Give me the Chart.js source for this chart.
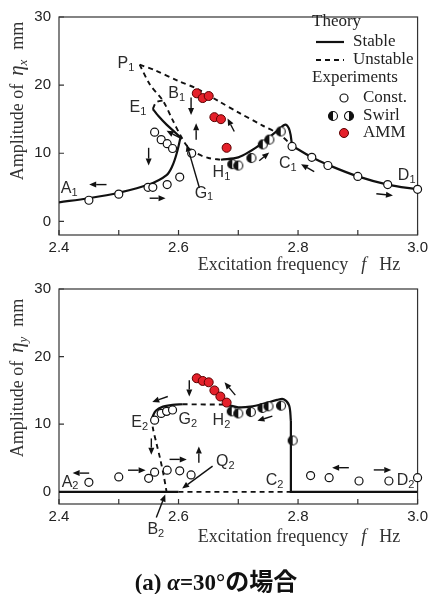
<!DOCTYPE html>
<html>
<head>
<meta charset="utf-8">
<script src="https://cdn.jsdelivr.net/npm/chart.js@4.4.1/dist/chart.umd.min.js"></script>
<style>
  body { margin: 0; background: #fff; }
  #wrap { position: relative; width: 432px; height: 594px; overflow: hidden; }
  #wrap canvas { position: absolute; left: 0; }
  #c1 { top: 0; }
  #c2 { top: 272px; }
  #caption { position: absolute; left: 0; top: 562px; width: 432px; line-height: 30px; text-align: center; color: #111; }
  #caption .s { font: bold 23px "Liberation Serif", serif; }
  #caption .j { font: bold 24px "Noto Sans CJK JP", sans-serif; }
</style>
</head>
<body>
<div id="wrap">
  <canvas id="c1" width="432" height="276"></canvas>
  <canvas id="c2" width="432" height="290"></canvas>
  <div id="caption"><span class="s">(a) <i>α</i>=30°</span><span class="j">の場合</span></div>
</div>
<script>
const sans = '"Liberation Sans", Arial, sans-serif';
const serif = '"Liberation Serif", "Times New Roman", serif';

// axes
const xTicks = [2.4, 2.5, 2.6, 2.7, 2.8, 2.9, 3.0];
const xTickLabels = ['2.4', '', '2.6', '', '2.8', '', '3.0'];
const yTicks = [0, 10, 20, 30];

// ---- top panel (eta_x), theory curves [f, amplitude]
const xLowStable = [[2.40, 2.8], [2.45, 3.4], [2.50, 4.2], [2.55, 5.4], [2.58, 6.8], [2.59, 8.2], [2.597, 10.0], [2.603, 12.2]];
const xE1Stable = [[2.605, 12.2], [2.58, 14.2], [2.566, 15.5], [2.557, 16.5]];
const xE1Dash = [[2.557, 16.5], [2.563, 17.5], [2.577, 17.8]];
const xP1Lower = [[2.535, 23.0], [2.552, 20.1], [2.574, 17.7], [2.59, 14.9], [2.604, 12.5], [2.615, 11.0], [2.63, 10.0], [2.65, 9.3], [2.671, 9.05]];
const xP1Upper = [[2.535, 23.0], [2.56, 22.2], [2.60, 20.6], [2.63, 19.5], [2.668, 17.6], [2.70, 16.0], [2.74, 14.1], [2.77, 12.7], [2.79, 11.1]];
const xH1Stable = [[2.671, 9.05], [2.70, 9.4], [2.72, 10.3], [2.74, 11.5], [2.768, 13.5], [2.779, 14.2], [2.786, 13.3], [2.79, 11.1]];
const xD1Stable = [[2.79, 11.1], [2.823, 9.4], [2.85, 8.3], [2.90, 6.6], [2.95, 5.4], [3.0, 4.7]];

// top panel experiments
const xConst = [[2.45, 3.1], [2.50, 4.0], [2.549, 5.0], [2.557, 5.0], [2.581, 5.4], [2.602, 6.5], [2.622, 10.0],
  [2.56, 13.1], [2.571, 12.0], [2.581, 11.4], [2.59, 10.7],
  [2.79, 11.0], [2.823, 9.4], [2.85, 8.2], [2.90, 6.6], [2.95, 5.4], [3.0, 4.7]];
const xSwirl = [[2.69, 8.4], [2.70, 8.2], [2.722, 9.3], [2.741, 11.3], [2.752, 12.0], [2.771, 13.2]];
const xAmm = [[2.6305, 18.8], [2.6405, 18.1], [2.6505, 18.4], [2.66, 15.3], [2.671, 15.0], [2.6805, 10.8]];

// top panel notes: [text, sub, f, amp] and arrows [f1, a1, f2, a2]
const xLabels = [['A', '1', 2.403, 4.8], ['P', '1', 2.498, 23.1], ['B', '1', 2.583, 18.7], ['E', '1', 2.518, 16.7],
  ['G', '1', 2.627, 4.1], ['H', '1', 2.657, 7.1], ['C', '1', 2.768, 8.5], ['D', '1', 2.967, 6.7]];
const xArrows = [[2.4795, 5.4, 2.4505, 5.4], [2.5517, 3.4, 2.5783, 3.4], [2.55, 10.8, 2.55, 8.2],
  [2.606, 12.1, 2.58, 13.3], [2.621, 18.2, 2.621, 15.6], [2.6295, 12.0, 2.6295, 14.4],
  [2.635, 4.9, 2.6138, 11.3], [2.6933, 13.2, 2.682, 15.1], [2.735, 8.9, 2.7517, 10.1],
  [2.827, 7.3, 2.805, 8.4], [2.931, 4.06, 2.9588, 3.8]];

// ---- bottom panel (eta_y), theory curves
const yZeroLeft = [[2.40, 0], [2.60, 0]];
const yZeroDash = [[2.60, 0], [2.788, 0]];
const yE2Stable = [[2.556, 11.0], [2.562, 12.0], [2.574, 12.6], [2.59, 12.85], [2.607, 12.95]];
const yE2Dash = [[2.556, 11.0], [2.557, 9.5], [2.563, 7.2], [2.569, 5.0], [2.575, 2.5], [2.58, 0]];
const yG2Dash = [[2.607, 12.95], [2.68, 12.9]];
const yH2Stable = [[2.68, 12.9], [2.70, 12.5], [2.72, 12.6], [2.745, 13.1], [2.765, 13.6], [2.776, 13.7], [2.785, 12.8], [2.788, 10.5]];
const yDropStable = [[2.788, 10.5], [2.788, 0], [3.0, 0]];

// bottom panel experiments
const yConst = [[2.45, 1.4], [2.50, 2.2], [2.55, 2.0], [2.56, 2.9], [2.581, 3.2], [2.602, 3.1], [2.621, 2.5],
  [2.56, 10.6], [2.571, 11.6], [2.58, 11.9], [2.59, 12.1],
  [2.821, 2.4], [2.852, 2.1], [2.902, 1.6], [2.952, 1.6], [3.0, 2.1]];
const ySwirl = [[2.689, 11.9], [2.70, 11.6], [2.721, 11.8], [2.7405, 12.4], [2.7505, 12.65], [2.7715, 12.75], [2.791, 7.6]];
const yAmm = [[2.6305, 16.8], [2.6405, 16.4], [2.6505, 16.2], [2.66, 15.0], [2.67, 14.1], [2.6805, 13.2]];

const yLabels = [['A', '2', 2.4045, 1.4], ['B', '2', 2.548, -5.6], ['C', '2', 2.746, 1.67], ['D', '2', 2.965, 1.67],
  ['E', '2', 2.521, 10.2], ['G', '2', 2.60, 10.7], ['H', '2', 2.657, 10.5], ['Q', '2', 2.6628, 4.4]];
const yArrows = [[2.4505, 2.77, 2.4228, 2.77], [2.5155, 3.2, 2.545, 3.2], [2.585, 4.8, 2.6138, 4.8],
  [2.634, 4.3, 2.634, 6.7], [2.5545, 7.9, 2.5545, 5.5], [2.582, 14.1, 2.556, 13.3],
  [2.618, 16.5, 2.618, 14.1], [2.695, 14.3, 2.677, 16.2], [2.757, 11.2, 2.732, 10.5],
  [2.885, 3.57, 2.857, 3.57], [2.9267, 3.24, 2.956, 3.24],
  [2.5628, -3.8, 2.5778, -0.4], [2.657, 3.8, 2.606, 0.5]];

const pts = arr => arr.map(([x, y]) => ({ x, y }));

function swirlIcon(r, leftDark) {
  const c = document.createElement('canvas');
  const s = Math.ceil(2 * r + 3);
  c.width = c.height = s;
  const g = c.getContext('2d'), m = s / 2;
  g.fillStyle = '#fff';
  g.beginPath(); g.arc(m, m, r, 0, 2 * Math.PI); g.fill();
  g.fillStyle = '#111';
  g.beginPath();
  if (leftDark) g.arc(m, m, r, Math.PI / 2, Math.PI * 1.5);
  else g.arc(m, m, r, -Math.PI / 2, Math.PI / 2);
  g.fill();
  g.strokeStyle = '#111'; g.lineWidth = 1.1;
  g.beginPath(); g.arc(m, m, r, 0, 2 * Math.PI); g.stroke();
  return c;
}
const swirlL = swirlIcon(4.5, true);
const swirlR = swirlIcon(4.5, false);

const stable = (d, t = 0.35) => ({ data: pts(d), showLine: true, borderColor: '#111', borderWidth: 2.2, pointRadius: 0, tension: t, order: 2 });
const unstable = d => ({ data: pts(d), showLine: true, borderColor: '#111', borderWidth: 1.9, borderDash: [5, 4], pointRadius: 0, tension: 0.3, order: 2 });
const constPts = d => ({ data: pts(d), pointStyle: 'circle', pointRadius: 4, pointBorderWidth: 1.2, pointBackgroundColor: '#fff', pointBorderColor: '#111', clip: false, order: 0 });
const swirlPts = d => ({ data: pts(d), pointStyle: swirlL, clip: false, order: 0 });
const ammPts = d => ({ data: pts(d), pointStyle: 'circle', pointRadius: 4.5, pointBorderWidth: 1, pointBackgroundColor: '#e4202a', pointBorderColor: '#5a0000', clip: false, order: 0 });

function arrow(g, x1, y1, x2, y2) {
  const a = Math.atan2(y2 - y1, x2 - x1), L = 7, W = 3;
  const bx = x2 - L * Math.cos(a), by = y2 - L * Math.sin(a);
  g.beginPath(); g.moveTo(x1, y1); g.lineTo(bx, by); g.stroke();
  g.beginPath(); g.moveTo(x2, y2);
  g.lineTo(bx + W * Math.sin(a), by - W * Math.cos(a));
  g.lineTo(bx - W * Math.sin(a), by + W * Math.cos(a));
  g.closePath(); g.fill();
}

// draw a row of text parts centred on 0 along the baseline
function drawParts(g, parts) {
  let total = 0;
  parts.forEach(p => { if (p.t) { g.font = p.f; p.w = g.measureText(p.t).width; } else p.w = p.gap; total += p.w; });
  let x = -total / 2;
  parts.forEach(p => { if (p.t) { g.font = p.f; g.fillText(p.t, x, p.dy || 0); } x += p.w; });
}

function decor(n) {
  return {
    id: 'decor',
    beforeDatasetsDraw(chart) {
      const g = chart.ctx, a = chart.chartArea, xs = chart.scales.x, ys = chart.scales.y;
      g.save();
      g.strokeStyle = '#333'; g.lineWidth = 1.2;
      g.strokeRect(a.left, a.top, a.right - a.left, a.bottom - a.top);
      g.beginPath();
      xTicks.forEach(v => { const p = xs.getPixelForValue(v); g.moveTo(p, a.bottom); g.lineTo(p, a.bottom - 5); });
      yTicks.forEach(v => { const p = ys.getPixelForValue(v); g.moveTo(a.left, p); g.lineTo(a.left + 5, p); });
      g.stroke();
      g.restore();
    },
    afterDatasetsDraw(chart) {
      const g = chart.ctx, xs = chart.scales.x, ys = chart.scales.y;
      const px = v => xs.getPixelForValue(v), py = v => ys.getPixelForValue(v);
      g.save();
      // arrows
      g.strokeStyle = '#111'; g.fillStyle = '#111'; g.lineWidth = 1.4;
      n.arrows.forEach(([f1, a1, f2, a2]) => arrow(g, px(f1), py(a1), px(f2), py(a2)));
      // point labels
      g.fillStyle = '#2a2a2a'; g.textBaseline = 'middle'; g.textAlign = 'left';
      n.labels.forEach(([t, s, f, v]) => {
        g.font = `16px ${sans}`;
        g.fillText(t, px(f), py(v));
        const w = g.measureText(t).width;
        g.font = `11px ${sans}`;
        g.fillText(s, px(f) + w, py(v) + 4);
      });
      // axis titles
      g.fillStyle = '#333'; g.textBaseline = 'alphabetic';
      g.save();
      g.translate(299, 270);
      drawParts(g, [{ t: 'Excitation frequency', f: `18px ${serif}` }, { gap: 13 },
        { t: 'f', f: `italic 18px ${serif}` }, { gap: 13 }, { t: 'Hz', f: `18px ${serif}` }]);
      g.restore();
      g.save();
      g.translate(23, n.titleY);
      g.rotate(-Math.PI / 2);
      drawParts(g, [{ t: 'Amplitude of', f: `18px ${serif}` }, { gap: 8 },
        { t: 'η', f: `italic 21px ${serif}` }, { t: n.sub, f: `italic 13px ${serif}`, dy: 4 }, { gap: 10 },
        { t: 'mm', f: `18px ${serif}` }]);
      g.restore();
      if (n.legend) drawLegend(g);
      g.restore();
    }
  };
}

function drawLegend(g) {
  g.fillStyle = '#222'; g.textAlign = 'left'; g.textBaseline = 'middle';
  g.font = `17px ${serif}`;
  g.fillText('Theory', 312, 22);
  g.fillText('Stable', 353, 42);
  g.fillText('Unstable', 353, 60);
  g.fillText('Experiments', 312, 78);
  g.fillText('Const.', 363, 98);
  g.fillText('Swirl', 363, 116);
  g.fillText('AMM', 363, 133);
  g.strokeStyle = '#111';
  g.lineWidth = 2.2;
  g.beginPath(); g.moveTo(316, 42); g.lineTo(344, 42); g.stroke();
  g.lineWidth = 1.9; g.setLineDash([5, 4]);
  g.beginPath(); g.moveTo(316, 60); g.lineTo(344, 60); g.stroke();
  g.setLineDash([]);
  g.lineWidth = 1.2; g.fillStyle = '#fff';
  g.beginPath(); g.arc(344, 98, 4, 0, 2 * Math.PI); g.fill(); g.stroke();
  g.drawImage(swirlL, 333 - swirlL.width / 2, 116 - swirlL.height / 2);
  g.drawImage(swirlR, 349 - swirlR.width / 2, 116 - swirlR.height / 2);
  g.fillStyle = '#e4202a'; g.strokeStyle = '#5a0000'; g.lineWidth = 1;
  g.beginPath(); g.arc(344, 133, 4.5, 0, 2 * Math.PI); g.fill(); g.stroke();
}

function makeChart(id, yMin, axisH, datasets, notes) {
  return new Chart(document.getElementById(id), {
    type: 'scatter',
    data: { datasets },
    options: {
      responsive: false,
      animation: false,
      events: [],
      layout: { padding: { top: 10, right: 12, left: 0, bottom: 0 } },
      plugins: { legend: { display: false }, tooltip: { enabled: false } },
      scales: {
        x: {
          type: 'linear', min: 2.4, max: 3.0,
          grid: { display: false, drawTicks: false }, border: { display: false },
          afterBuildTicks: s => { s.ticks = xTicks.map(v => ({ value: v })); },
          afterFit: s => { s.height = axisH; },
          ticks: { callback: (v, i) => xTickLabels[i], font: { family: sans, size: 15 }, color: '#222', padding: 4, maxRotation: 0, autoSkip: false }
        },
        y: {
          type: 'linear', min: yMin, max: 30,
          grid: { display: false, drawTicks: false }, border: { display: false },
          afterBuildTicks: s => { s.ticks = yTicks.map(v => ({ value: v })); },
          afterFit: s => { s.width = 59; },
          ticks: { font: { family: sans, size: 15 }, color: '#222', padding: 8 }
        }
      }
    },
    plugins: [decor(notes)]
  });
}

makeChart('c1', -2, 41, [
  constPts(xConst), swirlPts(xSwirl), ammPts(xAmm),
  stable(xLowStable), stable(xE1Stable, 0.15), unstable(xE1Dash), unstable(xP1Lower), unstable(xP1Upper),
  stable(xH1Stable), stable(xD1Stable)
], { labels: xLabels, arrows: xArrows, sub: 'x', titleY: 101, legend: true });

makeChart('c2', -1.8, 58, [
  constPts(yConst), swirlPts(ySwirl), ammPts(yAmm),
  stable(yZeroLeft, 0), unstable(yZeroDash), stable(yE2Stable), unstable(yE2Dash), unstable(yG2Dash),
  stable(yH2Stable), stable(yDropStable, 0)
], { labels: yLabels, arrows: yArrows, sub: 'y', titleY: 106, legend: false });
</script>
</body>
</html>
